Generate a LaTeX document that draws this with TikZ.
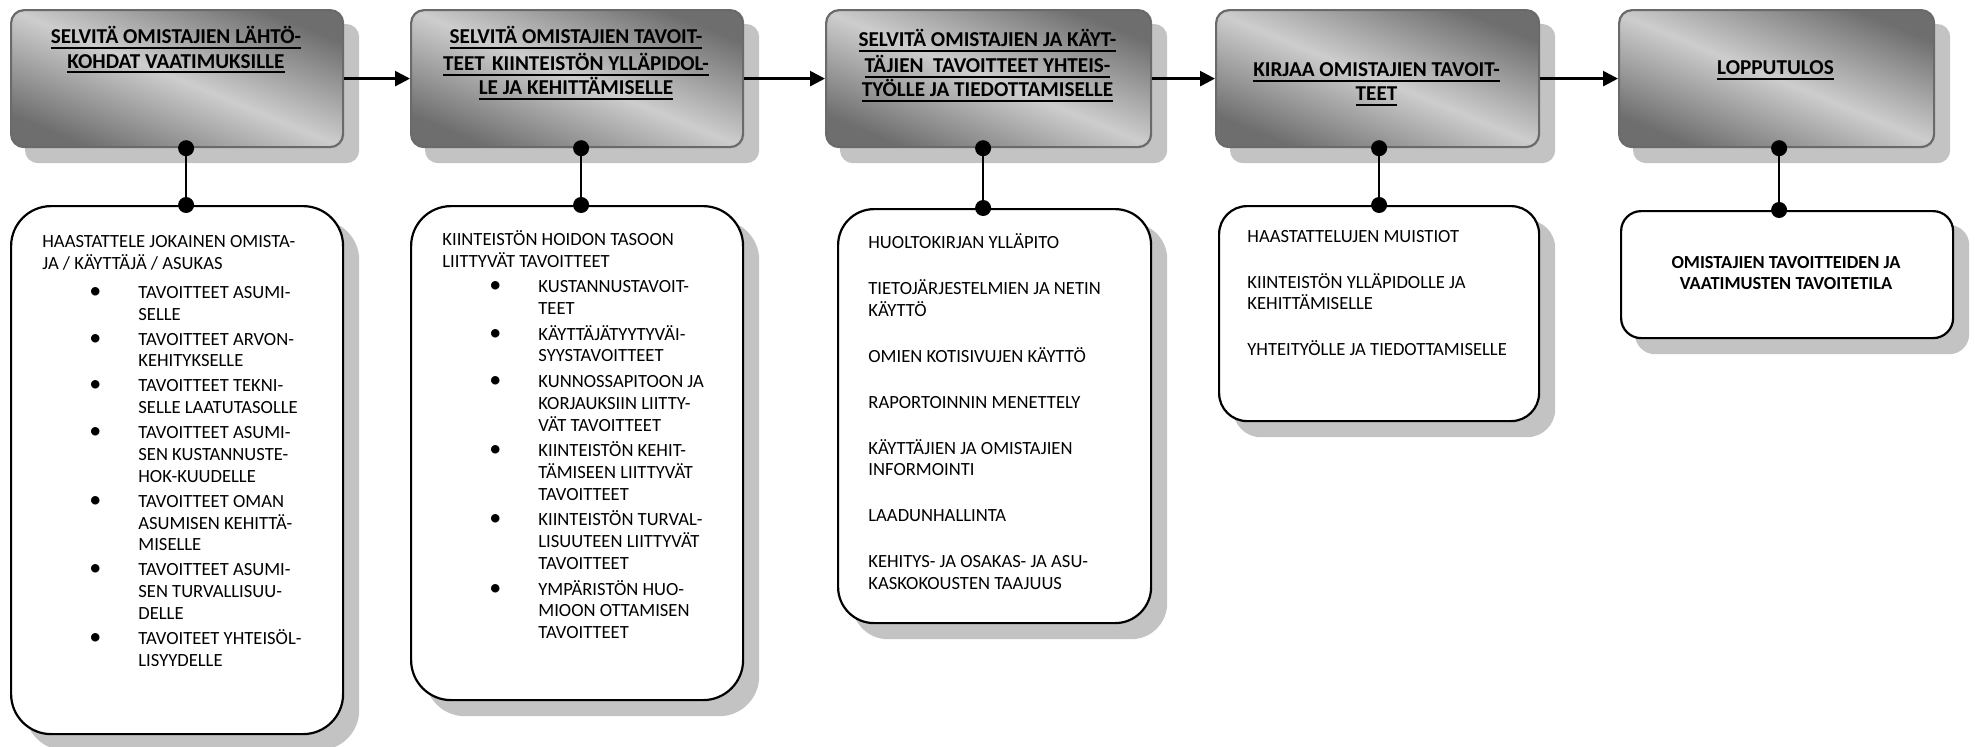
\documentclass[tikz,border=0pt]{standalone}
\usepackage{fontspec}
\setmainfont{Carlito}
\usetikzlibrary{arrows.meta,backgrounds}

\definecolor{shadedark}{HTML}{6E6E6E}
\definecolor{shadelight}{HTML}{CDCDCD}
\definecolor{frameedge}{HTML}{6A6A6A}
\definecolor{shadowgray}{HTML}{C3C3C3}

% underlined title line
\newcommand\ulline[1]{\setbox0=\hbox{#1}\rlap{\rule[-2.65pt]{\wd0}{1pt}}\box0}
% list item and its continuation lines
\newcommand\bulletglyph{{\fontsize{12pt}{10pt}\selectfont\textbullet}}
\newcommand\itm[1]{\hspace*{23.5pt}\makebox[24.5pt][l]{\bulletglyph}#1}
\newcommand\cnt[1]{\hspace*{48pt}#1}

\tikzset{
  stagebox/.style={rounded corners=6.5pt, draw=frameedge, line width=1.1pt,
    inner sep=0pt, anchor=north west, minimum height=68.5pt,
    top color=shadedark, bottom color=shadedark, middle color=shadelight,
    shading angle=-22.4},
  textpanel/.style={draw=black, line width=1.1pt, fill=white, inner sep=0pt,
    anchor=north west},
  titletext/.style={anchor=north, align=center, inner sep=0pt,
    font=\fontsize{10.6pt}{12.1pt}\selectfont\bfseries},
  bodytext/.style={anchor=north west, align=left, inner sep=0pt,
    font=\fontsize{9.3pt}{10.9pt}\selectfont},
  flow/.style={line width=1.3pt, -{Triangle[length=7.5pt,width=7.5pt]}},
  link/.style={line width=1.3pt},
}

\begin{document}
\begin{tikzpicture}[x=0.5pt, y=-0.5pt]
\useasboundingbox (0,0) rectangle (1975,746);

% process stages
\node[stagebox, minimum width=166pt]   (t1) at (10,9)   {};
\node[stagebox, minimum width=166pt]   (t2) at (410,9)  {};
\node[stagebox, minimum width=162.5pt] (t3) at (825,9)  {};
\node[stagebox, minimum width=161.5pt] (t4) at (1215,9) {};
\node[stagebox, minimum width=157.5pt] (t5) at (1618,9) {};

\node[titletext] (h1) at (176,26.2)
  {\strut\ulline{SELVITÄ OMISTAJIEN LÄHTÖ-}\\\ulline{KOHDAT VAATIMUKSILLE}};
\node[titletext] (h2) at (576,26.2)
  {\strut\ulline{SELVITÄ OMISTAJIEN TAVOIT-}\\\ulline{TEET\hspace{0.34em}KIINTEISTÖN YLLÄPIDOL-}\\\ulline{LE JA KEHITTÄMISELLE}};
\node[titletext] (h3) at (987.5,28.6)
  {\strut\ulline{SELVITÄ OMISTAJIEN JA KÄYT-}\\\ulline{TÄJIEN\ \ TAVOITTEET YHTEIS-}\\\ulline{TYÖLLE JA TIEDOTTAMISELLE}};
\node[titletext] (h4) at (1376.5,59)
  {\strut\ulline{KIRJAA OMISTAJIEN TAVOIT-}\\\ulline{TEET}};
\node[titletext] (h5) at (1775.5,57)
  {\strut\ulline{LOPPUTULOS}};

% detail panels
\node[textpanel, rounded corners=20pt, minimum width=166pt,   minimum height=264pt]   (b1) at (10,205)   {};
\node[textpanel, rounded corners=20pt, minimum width=166pt,   minimum height=247pt]   (b2) at (410,205)  {};
\node[textpanel, rounded corners=18pt, minimum width=156.5pt, minimum height=207pt]   (b3) at (837,208)  {};
\node[textpanel, rounded corners=14pt, minimum width=160pt,   minimum height=107.5pt] (b4) at (1218,205) {};
\node[textpanel, rounded corners=10pt, minimum width=166pt,   minimum height=63.5pt]  (b5) at (1620,210) {};

\node[bodytext] (p1) at (42,232) {%
  \strut HAASTATTELE JOKAINEN OMISTA-\\
  JA / KÄYTTÄJÄ / ASUKAS\\[3.5pt]
  \itm{TAVOITTEET ASUMI-}\\ \cnt{SELLE}\\[1.6pt]
  \itm{TAVOITTEET ARVON-}\\ \cnt{KEHITYKSELLE}\\[1.6pt]
  \itm{TAVOITTEET TEKNI-}\\ \cnt{SELLE LAATUTASOLLE}\\[1.6pt]
  \itm{TAVOITTEET ASUMI-}\\ \cnt{SEN KUSTANNUSTE-}\\ \cnt{HOK-KUUDELLE}\\[1.6pt]
  \itm{TAVOITTEET OMAN}\\ \cnt{ASUMISEN KEHITTÄ-}\\ \cnt{MISELLE}\\[1.6pt]
  \itm{TAVOITTEET ASUMI-}\\ \cnt{SEN TURVALLISUU-}\\ \cnt{DELLE}\\[1.6pt]
  \itm{TAVOITEET YHTEISÖL-}\\ \cnt{LISYYDELLE}};

\node[bodytext] (p2) at (442,229.7) {%
  \strut KIINTEISTÖN HOIDON TASOON\\
  LIITTYVÄT TAVOITTEET\\[1.9pt]
  \itm{KUSTANNUSTAVOIT-}\\ \cnt{TEET}\\[1.9pt]
  \itm{KÄYTTÄJÄTYYTYVÄI-}\\ \cnt{SYYSTAVOITTEET}\\[1.9pt]
  \itm{KUNNOSSAPITOON JA}\\ \cnt{KORJAUKSIIN LIITTY-}\\ \cnt{VÄT TAVOITTEET}\\[1.9pt]
  \itm{KIINTEISTÖN KEHIT-}\\ \cnt{TÄMISEEN LIITTYVÄT}\\ \cnt{TAVOITTEET}\\[1.9pt]
  \itm{KIINTEISTÖN TURVAL-}\\ \cnt{LISUUTEEN LIITTYVÄT}\\ \cnt{TAVOITTEET}\\[1.9pt]
  \itm{YMPÄRISTÖN HUO-}\\ \cnt{MIOON OTTAMISEN}\\ \cnt{TAVOITTEET}};

\node[bodytext, font=\fontsize{9.3pt}{10.8pt}\selectfont] (p3) at (868,233.2) {%
  \strut HUOLTOKIRJAN YLLÄPITO\\[12.2pt]
  TIETOJÄRJESTELMIEN JA NETIN\\
  KÄYTTÖ\\[12.2pt]
  OMIEN KOTISIVUJEN KÄYTTÖ\\[12.2pt]
  RAPORTOINNIN MENETTELY\\[12.2pt]
  KÄYTTÄJIEN JA OMISTAJIEN\\
  INFORMOINTI\\[12.2pt]
  LAADUNHALLINTA\\[12.2pt]
  KEHITYS- JA OSAKAS- JA ASU-\\
  KASKOKOUSTEN TAAJUUS};

\node[bodytext, font=\fontsize{9.3pt}{10.8pt}\selectfont] (p4) at (1247,226.6) {%
  \strut HAASTATTELUJEN MUISTIOT\\[12.2pt]
  KIINTEISTÖN YLLÄPIDOLLE JA\\
  KEHITTÄMISELLE\\[12.2pt]
  YHTEITYÖLLE JA TIEDOTTAMISELLE};

\node[anchor=north, align=center, inner sep=0pt,
      font=\fontsize{9.2pt}{10.5pt}\selectfont\bfseries] (p5) at (1786,253.6) {%
  \strut OMISTAJIEN TAVOITTEIDEN JA\\
  VAATIMUSTEN TAVOITETILA};

% shadows behind every box
\begin{scope}[on background layer]
  \fill[white] (0,0) rectangle (1975,746);
  \foreach \n/\r in {t1/6.5pt,t2/6.5pt,t3/6.5pt,t4/6.5pt,t5/6.5pt,
                     b1/20pt,b2/20pt,b3/18pt,b4/14pt,b5/10pt}
    \fill[shadowgray, rounded corners=\r]
      ([shift={(7.5pt,-7.5pt)}]\n.south west) rectangle ([shift={(7.5pt,-7.5pt)}]\n.north east);
\end{scope}

% flow between stages
\draw[flow] (t1.east) -- (t2.west);
\draw[flow] (t2.east) -- (t3.west);
\draw[flow] (t3.east) -- (t4.west);
\draw[flow] (t4.east) -- (t5.west);

% stage-to-panel connectors with end dots
\foreach \i/\dx in {1/4.5pt, 2/2pt, 3/-2.75pt, 4/0.75pt, 5/1.25pt} {
  \coordinate (u\i) at ([xshift=\dx]t\i.south);
  \coordinate (d\i) at (u\i |- b\i.north);
  \draw[link] (u\i) -- (d\i);
  \fill (u\i) circle (4pt) (d\i) circle (4pt);
}
\end{tikzpicture}
\end{document}
